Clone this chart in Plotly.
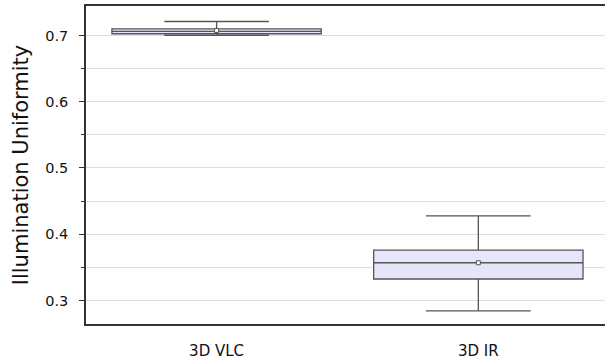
import plotly.graph_objects as go

categories = ["3D VLC", "3D IR"]
q1 = [0.7025, 0.3325]
median = [0.706, 0.357]
q3 = [0.710, 0.376]
lowerfence = [0.700, 0.2845]
upperfence = [0.721, 0.4278]
means = [0.7075, 0.357]

y_ticks = [0.3, 0.4, 0.5, 0.6, 0.7]
y_minor = [0.35, 0.45, 0.55, 0.65]

fig = go.Figure()
fig.add_trace(go.Box(
    x=categories, q1=q1, median=median, q3=q3,
    lowerfence=lowerfence, upperfence=upperfence,
    boxpoints=False, width=0.8, whiskerwidth=0.5,
    fillcolor="#e6e6fa", line=dict(color="#555555", width=1.3),
    showlegend=False, hoverinfo="skip",
))
fig.add_trace(go.Scatter(
    x=categories, y=means, mode="markers",
    marker=dict(symbol="square", size=4, color="white",
                line=dict(color="#555555", width=1)),
    showlegend=False, hoverinfo="skip",
))

fig.update_layout(
    width=605, height=360,
    margin=dict(l=86, r=0, t=6, b=36, autoexpand=False),
    plot_bgcolor="white", paper_bgcolor="white",
    font=dict(family="DejaVu Sans", color="#111111"),
)
fig.update_xaxes(
    range=[-0.499, 1.484], showline=True, mirror=True, automargin=False,
    linecolor="#333333", linewidth=1.5, ticks="", showgrid=False,
    tickfont=dict(size=15), zeroline=False, ticklabelstandoff=12,
)
fig.update_yaxes(
    range=[0.2646, 0.7444], showline=True, mirror=False, automargin=False,
    linecolor="#333333", linewidth=1.5,
    tickvals=y_ticks, ticktext=[f"{v:.1f}" for v in y_ticks],
    ticks="outside", ticklen=5, tickcolor="#333333", tickwidth=1.2,
    tickfont=dict(size=14.5), ticklabelstandoff=8,
    showgrid=True, gridcolor="#dddddd", gridwidth=1, zeroline=False,
    minor=dict(tickvals=y_minor, ticks="outside", ticklen=3,
               tickcolor="#333333", showgrid=True, gridcolor="#dddddd"),
    title=dict(text="Illumination Uniformity", font=dict(size=21), standoff=11),
)

fig.write_html(
    "out.html",
    config={"displayModeBar": False},
    post_script="document.body.style.margin='0';document.body.style.overflow='hidden';",
)
